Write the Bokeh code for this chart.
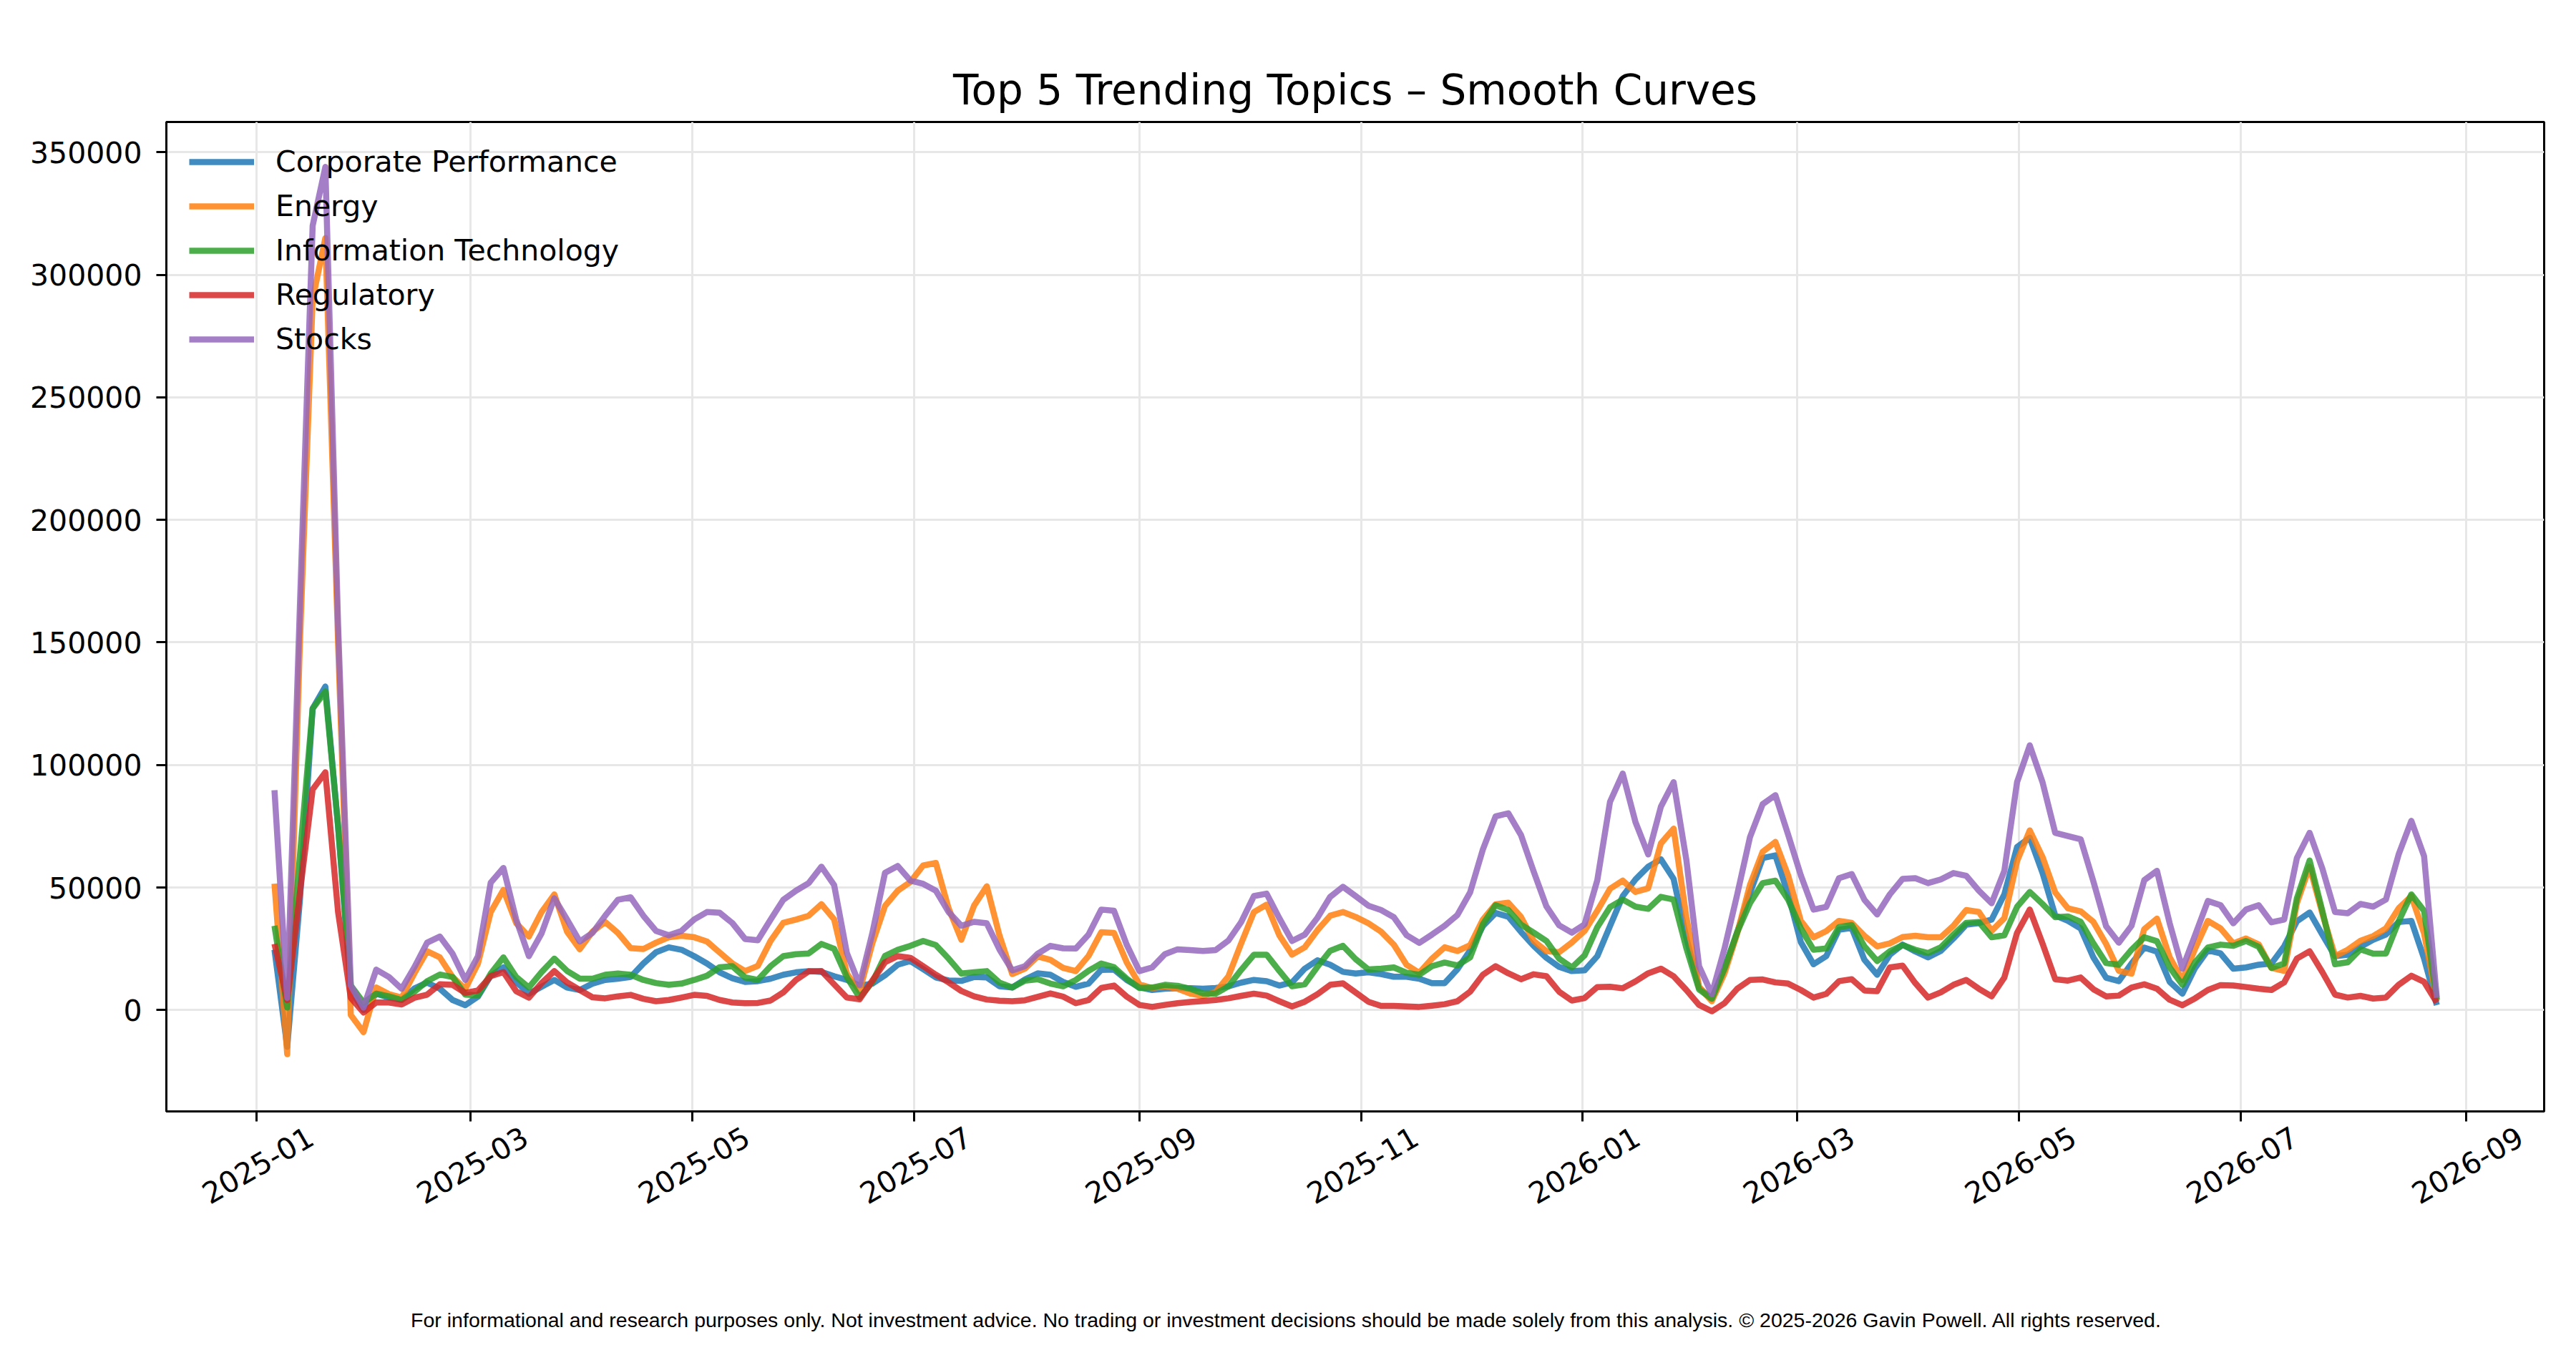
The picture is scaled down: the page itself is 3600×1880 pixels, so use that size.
import math

import numpy as np
import pandas as pd

from bokeh.embed import file_html
from bokeh.layouts import column
from bokeh.models import (Div, FixedTicker, Legend, LegendItem, LinearAxis,
                          NumeralTickFormatter, Range1d, SingleIntervalTicker)
from bokeh.plotting import figure
from bokeh.resources import INLINE

# sample dates, two per week, shared by every topic
dates = pd.date_range("2025-01-06", periods=171, freq="84h")

# mention counts per topic, in thousands
corporate = [
    24.6, -15, 45, 123, 132, 75, 8, 0, 6.7, 5.1,
    4.1, 8.8, 11.2, 8.7, 4.1, 2, 5.5, 14, 17.4, 11.5,
    6.7, 9.5, 12.3, 9.2, 8.2, 10.8, 12.3, 12.8, 13.5, 19,
    23.6, 25.6, 24.6, 22, 19, 15.4, 13, 11.5, 11.8, 12.8,
    14.4, 15.4, 15.9, 15.6, 13.8, 12.3, 10, 10.8, 14.2, 18.5,
    20, 16.7, 13.3, 12.1, 11.9, 13.5, 13.3, 9.7, 9.2, 12.5,
    15, 14.4, 11.5, 9.5, 10.8, 16.4, 16.5, 12.3, 9.3, 8.2,
    8.7, 8.9, 8.9, 8.7, 9, 9.7, 11.2, 12.3, 11.8, 10,
    11.3, 16.9, 20.3, 18.5, 15.6, 14.9, 15.4, 14.7, 13.6, 13.6,
    12.8, 11, 11, 16.6, 24.4, 34.2, 39.6, 38.1, 31.9, 26.2,
    21.3, 17.6, 15.9, 16.2, 22, 34.3, 46.5, 53.3, 58.5, 61.5,
    53.5, 29.5, 9.2, 4.6, 16.9, 31.8, 47.7, 62, 63.1, 47.3,
    27.7, 18.7, 22, 32.8, 33.5, 20.5, 14.4, 22.6, 26.7, 23.9,
    21.5, 24.1, 29.2, 34.8, 35.5, 36.9, 47.2, 66.5, 70.3, 56,
    38.6, 36.4, 33.3, 21.5, 13.2, 11.8, 19, 25.5, 23.8, 11.5,
    6.7, 17.2, 24.4, 23.1, 16.9, 17.4, 18.5, 19, 26, 36.2,
    39.8, 30.8, 22, 22.6, 25.8, 28.7, 30.8, 35.9, 36.4, 21,
    2,
]
energy = [
    51.6, -18, 150, 290, 315, 150, -2, -9, 9.2, 6.5,
    5.1, 15, 24, 21.5, 13.5, 8.7, 19, 40, 49, 35.5,
    30, 40, 47.2, 32, 24.8, 32, 35.9, 31.5, 25.3, 24.9,
    27.5, 29.7, 30.3, 29.7, 28, 23.5, 19, 15.9, 18, 28.2,
    35.6, 36.9, 38.5, 43.2, 37, 14.9, 7.7, 27.2, 42.5, 48.7,
    52.3, 59, 60, 41.5, 28.7, 42.6, 50.5, 30.4, 14.7, 16.9,
    21.9, 20.5, 17.2, 15.9, 22.1, 31.8, 31.5, 19.5, 10.5, 9,
    9.7, 8.7, 6.7, 5.8, 7.4, 13.8, 27.2, 40, 43, 30.5,
    22.6, 25.6, 32.6, 38.5, 40, 38, 35.4, 32, 26.7, 18.5,
    15.2, 21, 25.6, 24.1, 26.5, 36.9, 43.2, 43.8, 38, 28.2,
    24, 23.6, 27.6, 32.3, 40.5, 49.5, 52.8, 48.2, 49.7, 68,
    74, 38, 9.5, 3.6, 15, 31.3, 51, 64.6, 68.6, 55,
    36.4, 29.7, 32.2, 36.4, 35.6, 30.3, 26, 27.2, 29.8, 30.3,
    29.7, 29.7, 34.4, 40.8, 40, 32.3, 37.5, 60.8, 73.3, 62.5,
    48, 41.5, 40.3, 36, 27, 16, 14.9, 33, 37.3, 21.5,
    12.3, 25.1, 36.4, 33.3, 27.2, 29.2, 26.8, 17.2, 16, 43.6,
    58.5, 39.5, 22, 24.6, 28.3, 30.2, 33.3, 41.5, 46.5, 31.3,
    4.1,
]
info_tech = [
    34.4, 1, 63, 123, 130, 75, 10, 3, 6.7, 5.6,
    4.1, 7.5, 11.8, 14.5, 13.5, 6.3, 6, 14.9, 21.5, 13.5,
    9.2, 15.5, 21, 16, 12.8, 12.8, 14.4, 14.9, 14.4, 12.3,
    11, 10.3, 10.8, 12.3, 14, 17.5, 17.9, 13.3, 12.3, 17.9,
    22, 22.8, 23.1, 27, 25, 13.4, 5.1, 11.3, 22.1, 24.6,
    26.2, 28.2, 26.5, 21, 14.9, 15.4, 15.9, 11.2, 9.2, 12,
    12.6, 10.8, 9.7, 12.3, 16, 19, 17.5, 12.8, 9, 9.2,
    10.3, 9.9, 8.7, 6.8, 6.7, 9.7, 16.4, 22.6, 22.6, 16,
    9.7, 10.5, 17.7, 24.2, 26.2, 20.8, 16.6, 16.9, 17.4, 15.2,
    14.4, 17.9, 19.4, 18.2, 21.5, 35, 42.8, 40.8, 34.9, 31.6,
    28.2, 21, 17.4, 22.3, 33.8, 42, 45.1, 42.2, 41.3, 46.2,
    45.1, 25.3, 8.4, 4.6, 16.9, 31.8, 43.6, 51.8, 52.8, 45.1,
    33.3, 24.6, 25.1, 33.8, 34.7, 26, 20, 24, 26.5, 24.6,
    23.3, 25.6, 30.8, 35.6, 35.9, 29.7, 30.5, 42.1, 48.2, 43.3,
    37.9, 38.2, 36, 27.2, 19.2, 18.5, 24.6, 29.7, 28.1, 17.4,
    10.3, 19.5, 25.5, 26.7, 26.2, 28.2, 25.8, 17.2, 19, 45.6,
    61, 40.5, 18.7, 19.5, 24.8, 23, 23.1, 36.2, 47.2, 40.5,
    4.1,
]
regulatory = [
    27, 4, 48, 90, 97, 40, 5, -1, 3.1, 3.1,
    2.3, 5, 6.3, 10.5, 10.3, 7, 8, 13.8, 15.5, 7.7,
    5.1, 11, 15.9, 11.3, 8.2, 5.2, 4.8, 5.6, 6.2, 4.6,
    3.6, 4.1, 5.1, 6.2, 5.8, 4.1, 3.1, 2.8, 2.9, 3.9,
    7.2, 12.3, 15.8, 15.9, 10.5, 5.1, 4.4, 12, 19.5, 22,
    21.3, 17.9, 14.4, 11.3, 7.8, 5.6, 4.3, 3.8, 3.6, 4,
    5.4, 6.8, 5.5, 2.8, 4.1, 9, 10, 5.5, 2.1, 1.3,
    2.1, 2.8, 3.3, 3.7, 4.1, 4.8, 5.8, 6.7, 5.9, 3.6,
    1.5, 3.4, 6.5, 10.3, 10.9, 7.2, 3.4, 1.7, 1.7, 1.5,
    1.3, 1.8, 2.4, 3.6, 7.5, 14.4, 17.9, 15, 12.6, 14.6,
    13.8, 7.5, 3.9, 4.9, 9.4, 9.5, 8.9, 11.7, 15, 16.9,
    13.8, 8.2, 2.1, -0.5, 2.8, 8.7, 12.3, 12.5, 11.3, 10.8,
    8.2, 5.1, 6.6, 11.8, 12.6, 8, 7.7, 17.4, 18.1, 11,
    5.1, 7.2, 10.3, 12.3, 8.7, 5.6, 13.3, 31.5, 41, 27.2,
    12.6, 12, 13.3, 8.5, 5.6, 5.9, 9.2, 10.5, 8.7, 4.2,
    2, 4.8, 8.2, 10.2, 10, 9.4, 8.7, 8.2, 11.3, 21,
    24, 15.5, 6.3, 5.1, 5.8, 4.7, 5.1, 10.3, 14, 11.5,
    3.1,
]
stocks = [
    89.7, 5, 165, 320, 344, 157, 10, 1, 16.5, 13.5,
    8.7, 17.5, 27.5, 30, 23, 12.3, 22, 52, 58, 37,
    22, 31.3, 45.6, 37, 28, 31.5, 38.5, 45, 46, 38.5,
    32.3, 30.5, 32.3, 37, 40, 39.7, 35.5, 29, 28.5, 36.9,
    45, 48.7, 51.8, 58.5, 51, 23.3, 10.3, 31.3, 56, 58.8,
    52.8, 51.5, 48.7, 40, 34.4, 36, 35.4, 24.7, 16.2, 17.9,
    23, 26.2, 25.2, 25.1, 30.8, 41, 40.5, 26.7, 15.9, 17.4,
    22.8, 24.8, 24.5, 24.1, 24.5, 28.4, 35.9, 46.5, 47.5, 37.5,
    28.2, 30.8, 37.7, 46.2, 50.3, 46.5, 42.6, 40.8, 37.9, 30.6,
    27.4, 30.8, 34.4, 38.8, 48, 65.5, 79, 80.3, 71.4, 56.5,
    42.3, 34.6, 31.6, 35, 53, 85, 96.5, 76.7, 63.5, 83,
    93, 61.3, 17.9, 6.5, 25.1, 47.2, 70.5, 84, 87.7, 71.6,
    55, 41, 42.1, 53.8, 55.5, 45, 39, 47.2, 53.5, 53.8,
    51.8, 53.3, 55.9, 54.8, 48.7, 43.6, 56.8, 93, 108, 93,
    72.3, 71, 69.7, 52.5, 34.2, 27.5, 34.4, 53, 56.8, 35.4,
    16.9, 30.6, 44.5, 42.8, 35.4, 41, 42.8, 35.8, 36.9, 62,
    72.3, 57.8, 40, 39.5, 43.3, 42.2, 45.1, 63.5, 77.2, 62.8,
    5,
]

topics = ["Corporate Performance", "Energy", "Information Technology", "Regulatory", "Stocks"]
series = [corporate, energy, info_tech, regulatory, stocks]
colors = ["#1f77b4", "#ff7f0e", "#2ca02c", "#d62728", "#9467bd"]

tick_months = ["2025-01", "2025-03", "2025-05", "2025-07", "2025-09", "2025-11",
               "2026-01", "2026-03", "2026-05", "2026-07", "2026-09"]

footer = ("For informational and research purposes only. Not investment advice. "
          "No trading or investment decisions should be made solely from this analysis. "
          "\u00a9 2025-2026 Gavin Powell. All rights reserved.")


def to_ms(ts):
    return int(pd.Timestamp(ts).value // 10**6)


tick_ms = [to_ms(m + "-01") for m in tick_months]
# the rotated labels are centred on the ticks, bokeh hangs them from their right end
shift_ms = int(15.0 * 24 * 3600 * 1000)
label_ms = [t + shift_ms for t in tick_ms]

p = figure(width=3584, height=1790, x_axis_type="datetime",
           output_backend="svg", toolbar_location=None, tools="",
           x_range=Range1d(pd.Timestamp("2024-12-07 06:00"), pd.Timestamp("2026-09-22 13:00")),
           y_range=Range1d(-41350, 362350),
           min_border_left=232, min_border_right=29,
           min_border_top=170, min_border_bottom=237)
p.background_fill_color = "white"
p.border_fill_color = "white"

items = []
for name, vals, col in zip(topics, series, colors):
    r = p.line(dates, np.array(vals) * 1000, line_width=8.5, color=col,
               line_alpha=0.85, line_join="round")
    items.append(LegendItem(label=name, renderers=[r]))

legend = Legend(items=items, location="top_left",
                label_text_font="DejaVu Sans", label_text_font_size="41px",
                label_text_color="black",
                glyph_width=91, glyph_height=40, label_height=40,
                label_standoff=30, spacing=14, padding=32, margin=0,
                border_line_alpha=0, background_fill_alpha=0)
p.add_layout(legend)

# title
p.title.text = "Top 5 Trending Topics \u2013 Smooth Curves"
p.title.align = "center"
p.title.text_font = "DejaVu Sans"
p.title.text_font_size = "58px"
p.title.text_font_style = "normal"
p.title.text_color = "black"
p.title.standoff = 22

# x axis: tick marks only
xa = p.xaxis[0]
xa.ticker = FixedTicker(ticks=tick_ms)
xa.major_label_overrides = {t: "" for t in tick_ms}
xa.major_label_text_font_size = "1px"
xa.major_label_standoff = 0
xa.major_tick_out = 14
xa.major_tick_in = 0
xa.major_tick_line_width = 3
xa.major_tick_line_color = "black"
xa.minor_tick_line_color = None
xa.axis_line_width = 3
xa.axis_line_color = "black"

# second x axis carries the rotated month labels
xb = LinearAxis(ticker=FixedTicker(ticks=label_ms),
                major_label_overrides=dict(zip(label_ms, tick_months)),
                major_label_orientation=math.pi / 6,
                major_label_standoff=18,
                major_label_text_font="DejaVu Sans",
                major_label_text_font_size="41px",
                major_label_text_color="black",
                major_tick_out=0, major_tick_in=0,
                major_tick_line_color=None, minor_tick_line_color=None,
                axis_line_color=None)
p.add_layout(xb, "below")

ya = p.yaxis[0]
ya.ticker = SingleIntervalTicker(interval=50000, num_minor_ticks=0)
ya.formatter = NumeralTickFormatter(format="0")
ya.major_label_text_font = "DejaVu Sans"
ya.major_label_text_font_size = "41px"
ya.major_label_text_color = "black"
ya.major_label_standoff = 20
ya.major_tick_out = 14
ya.major_tick_in = 0
ya.major_tick_line_width = 3
ya.major_tick_line_color = "black"
ya.minor_tick_line_color = None
ya.axis_line_width = 3
ya.axis_line_color = "black"

p.xgrid.grid_line_color = "#e7e7e7"
p.xgrid.grid_line_width = 3
p.ygrid.grid_line_color = "#e7e7e7"
p.ygrid.grid_line_width = 3

p.outline_line_color = "black"
p.outline_line_width = 3
p.outline_line_alpha = 1

# disclaimer under the chart
note = Div(text=('<div style="font-family: \'Liberation Sans\', Arial, sans-serif; '
                 'font-size: 28.5px; line-height: 32px; color: black; text-align: center; '
                 'width: 3584px; padding-top: 34px;">' + footer + '</div>'),
           width=3584, height=82)

layout = column(p, note)

open("out.html", "w").write(file_html(layout, INLINE))
